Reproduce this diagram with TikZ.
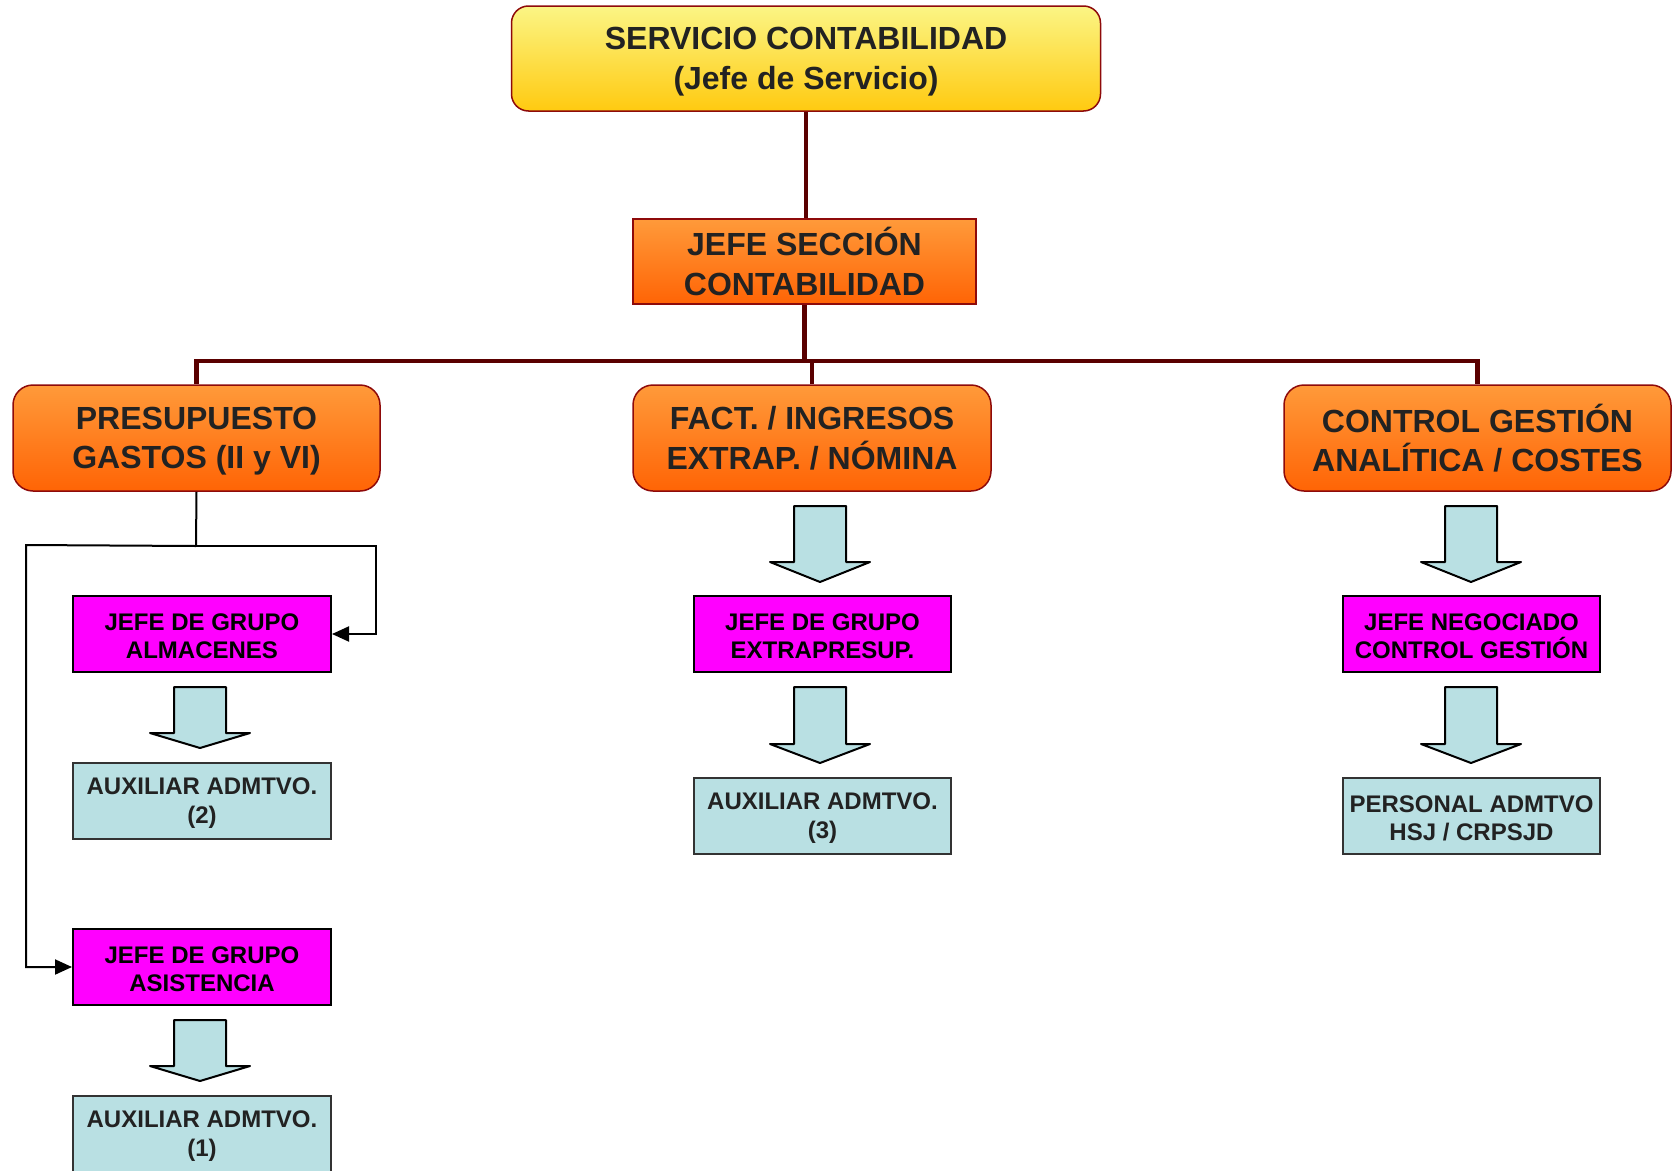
\documentclass[tikz,border=0pt]{standalone}
\usepackage{fontspec}
\setmainfont{Liberation Sans}
\usetikzlibrary{arrows.meta}

\definecolor{amarilloA}{HTML}{FBF585}
\definecolor{amarilloB}{HTML}{FFCA10}
\definecolor{naranjaA}{HTML}{FF9A3A}
\definecolor{naranjaB}{HTML}{FF6405}
\definecolor{borde}{HTML}{8E0A0A}
\definecolor{troncal}{HTML}{5A0000}
\definecolor{magenta}{HTML}{FF00FF}
\definecolor{celeste}{HTML}{B9E0E3}
\definecolor{texto}{HTML}{222222}

\tikzset{
  grande/.style={font=\fontsize{32}{39.5}\selectfont\bfseries, align=center, text=texto, draw=borde, line width=1.5pt},
  jefe/.style={grande, rounded corners=17pt, top color=amarilloA, bottom color=amarilloB, minimum width=589pt, minimum height=105pt},
  seccion/.style={grande, top color=naranjaA, bottom color=naranjaB, minimum width=343pt, minimum height=85pt},
  area/.style={grande, rounded corners=20pt, top color=naranjaA, bottom color=naranjaB, minimum height=106pt},
  chica/.style={font=\fontsize{24}{28.8}\selectfont\bfseries, align=center, line width=2pt, minimum width=258pt, minimum height=76pt},
  grupo/.style={chica, draw=black, fill=magenta, text=black},
  auxiliar/.style={chica, draw=black!80, fill=celeste, text=texto},
  tronco/.style={draw=troncal, line width=4.8pt},
  fino/.style={draw=black, line width=2pt},
  bloquef/.style={draw=black, line width=2pt, fill=celeste, line join=round}
}

% flecha de bloque: x centro, y arriba, y cabeza, y punta
\newcommand{\bloque}[4]{%
  \draw[bloquef] (#1-26,#2) -- (#1+26,#2) -- (#1+26,#3) -- (#1+50,#3) -- (#1,#4)
    -- (#1-50,#3) -- (#1-26,#3) -- cycle;}
% alto de primera linea como si llevara tilde
\newcommand{\alto}{\vphantom{Ó}}

\begin{document}
\begin{tikzpicture}[x=1pt,y=-1pt,>=latex]
\useasboundingbox (0,0) rectangle (1673,1170);

\node[jefe] (jefe) at (806,58.5) {\alto SERVICIO CONTABILIDAD\\(Jefe de Servicio)};
\node[seccion] (seccion) at (804.5,261.5) {JEFE SECCIÓN\\CONTABILIDAD};

\node[area, minimum width=367pt] (presupuesto) at (196.5,438) {\alto PRESUPUESTO\\GASTOS (II y VI)};
\node[area, minimum width=358pt] (fact) at (812,438) {FACT. / INGRESOS\\EXTRAP. / NÓMINA};
\node[area, minimum width=387pt] (control) at (1477.5,438) {CONTROL GESTIÓN\\ANALÍTICA / COSTES};

\node[grupo] (almacenes) at (202,634) {\alto JEFE DE GRUPO\\ALMACENES};
\node[auxiliar] (aux2) at (202,801) {\alto AUXILIAR ADMTVO.\\(2)};
\node[grupo] (asistencia) at (202,967) {\alto JEFE DE GRUPO\\ASISTENCIA};
\node[auxiliar] (aux1) at (202,1134) {\alto AUXILIAR ADMTVO.\\(1)};

\node[grupo, minimum width=257pt] (extrapresup) at (822.5,634) {\alto JEFE DE GRUPO\\EXTRAPRESUP.};
\node[auxiliar, minimum width=257pt] (aux3) at (822.5,816) {\alto AUXILIAR ADMTVO.\\(3)};

\node[grupo, minimum width=257pt] (negociado) at (1471.5,634) {\alto JEFE NEGOCIADO\\CONTROL GESTIÓN};
\node[auxiliar, minimum width=257pt] (personal) at (1471.5,816) {\alto PERSONAL ADMTVO\\HSJ / CRPSJD};

% lineas de mando
\coordinate (bus) at (804.5,361);
\draw[tronco] (jefe.south) -- (jefe.south |- seccion.north);
\draw[tronco] (seccion.south) -- (bus);
\draw[tronco] (presupuesto.north) |- (bus) -| (control.north);
\draw[tronco] (bus) -| (fact.north);

% ramas de presupuesto
\coordinate (rama) at (196,546);
\coordinate (ramaD) at (376,546);
\coordinate (ramaI) at (26,545);
\draw[fino] (presupuesto.south) -- (rama);
\draw[fino,-{Triangle[length=17pt,width=15pt]}] (rama) -- (ramaD) |- (almacenes.east);
\draw[fino,-{Triangle[length=17pt,width=15pt]}] (rama) -- (ramaI) |- (asistencia.west);

% flechas de bloque
\bloque{200}{687}{733}{748}
\bloque{200}{1020}{1066}{1081}
\bloque{820}{506}{562}{582}
\bloque{820}{687}{744}{763}
\bloque{1471}{506}{562}{582}
\bloque{1471}{687}{744}{763}
\end{tikzpicture}
\end{document}
